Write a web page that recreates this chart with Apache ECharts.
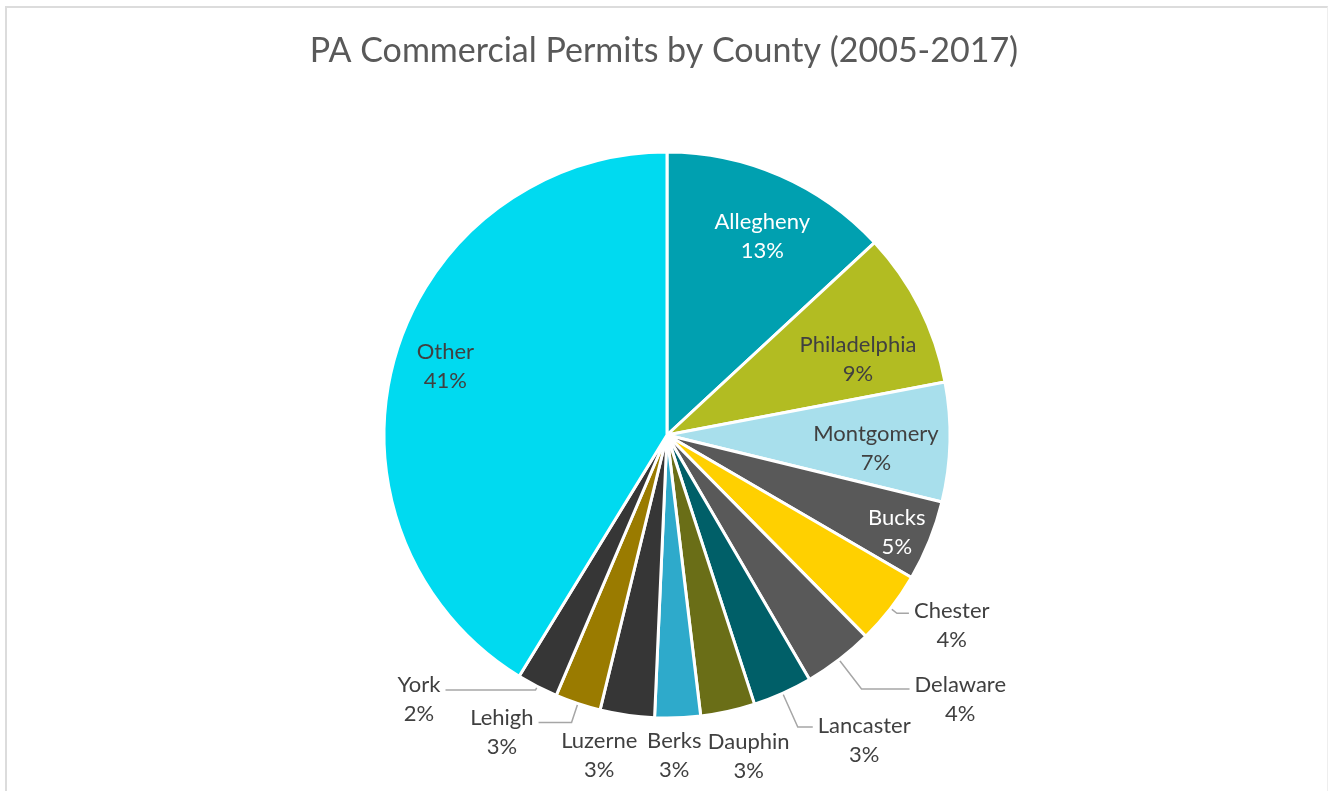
<!DOCTYPE html>
<html style="height: 100%">
  <head>
    <meta charset="utf-8" />
    <title>PA Commercial Permits by County</title>
    <script src="https://cdn.jsdelivr.net/npm/echarts@6/dist/echarts.min.js"></script>
  </head>
  <body style="height: 100%; margin: 0; background: #fff">
    <div id="frame" style="position: absolute; left: 5px; top: 6px; width: 1320px; height: 800px; border-top: 2px solid #dcdcdc; border-left: 2px solid #dcdcdc; border-right: 1px solid #eeeeee"></div>
    <div id="container" style="position: absolute; left: 0; top: 0; width: 1328px; height: 791px"></div>

    <script type="text/javascript">
      var counties = ['Allegheny', 'Philadelphia', 'Montgomery', 'Bucks', 'Chester', 'Delaware',
        'Lancaster', 'Dauphin', 'Berks', 'Luzerne', 'Lehigh', 'York', 'Other'];
      // share of permits (%)
      var shares = [13.1, 8.9, 6.8, 4.6, 4.2, 4.0, 3.4, 3.1, 2.6, 3.1, 2.6, 2.35, 41.25];
      var colors = ['#00a0b0', '#b2bc22', '#a8dfec', '#595959', '#ffd000', '#595959',
        '#005f68', '#6a6e17', '#2eaacb', '#363636', '#9a7b00', '#363636', '#00daf0'];
      var whiteText = ['Allegheny', 'Bucks'];
      // labels drawn inside the slice, nudged with padding [top, right, bottom, left]
      var insideNudge = {
        Allegheny: [12, 0, 0, 12],
        Philadelphia: [50, 16, 0, 0],
        Montgomery: [16, 28, 0, 0],
        Bucks: [28, 0, 0, 46],
        Other: [0, 14, 16, 0]
      };
      // leader lines for the outside labels: [length, length2, show line, top padding]
      var leaders = {
        Chester: [8, 12, true, 24],
        Delaware: [37, 48, true, 20],
        Lancaster: [37, 15, true, 26],
        Dauphin: [46, -35, false, 0],
        Berks: [38, -37, false, 0],
        Luzerne: [41, -21, false, 0],
        Lehigh: [20, 33, true, 20],
        York: [4, 90, true, 18]
      };

      var font = 'Lato';
      var dom = document.getElementById('container');
      var myChart = echarts.init(dom);

      function pct(p) {
        return '{n|' + p.name + '}\n{n|' + Math.round(p.percent) + '%}';
      }

      function richText(color) {
        return {
          n: {
            fontFamily: font,
            fontSize: 22,
            lineHeight: 29,
            color: color,
            align: 'center'
          }
        };
      }

      var slices = counties.map(function (name, i) {
        var item = {
          name: name,
          value: shares[i],
          itemStyle: { color: colors[i] },
          label: { show: false },
          labelLine: { show: false }
        };
        var l = leaders[name];
        if (l) {
          item.label = { show: true, padding: [l[3], 0, 0, 0] };
          item.labelLine = { show: l[2], length: l[0], length2: l[1] };
        }
        return item;
      });

      var labelRing = counties.map(function (name, i) {
        var nudge = insideNudge[name];
        var color = whiteText.indexOf(name) >= 0 ? '#ffffff' : '#404040';
        return {
          name: name,
          value: shares[i],
          label: {
            show: !!nudge,
            padding: nudge || 0,
            rich: richText(color)
          }
        };
      });

      myChart.setOption({
        backgroundColor: 'transparent',
        animation: false,
        title: {
          text: 'PA Commercial Permits by County (2005-2017)',
          left: 'center',
          top: 29,
          textStyle: {
            fontFamily: font,
            fontSize: 34,
            fontWeight: 'normal',
            color: '#595959'
          }
        },
        series: [
          {
            type: 'pie',
            center: [667, 435],
            radius: [0, 283],
            startAngle: 90,
            clockwise: true,
            avoidLabelOverlap: false,
            itemStyle: { borderColor: '#ffffff', borderWidth: 3 },
            label: {
              position: 'outside',
              formatter: pct,
              color: '#404040',
              rich: richText('#404040')
            },
            labelLine: {
              lineStyle: { color: '#a6a6a6', width: 1.5 }
            },
            data: slices
          },
          {
            type: 'pie',
            center: [667, 435],
            radius: [157, 283],
            startAngle: 90,
            clockwise: true,
            silent: true,
            avoidLabelOverlap: false,
            itemStyle: { color: 'transparent', borderWidth: 0 },
            label: {
              position: 'inside',
              formatter: pct
            },
            labelLine: { show: false },
            emphasis: { disabled: true },
            data: labelRing
          }
        ]
      });
    </script>
  </body>
</html>
